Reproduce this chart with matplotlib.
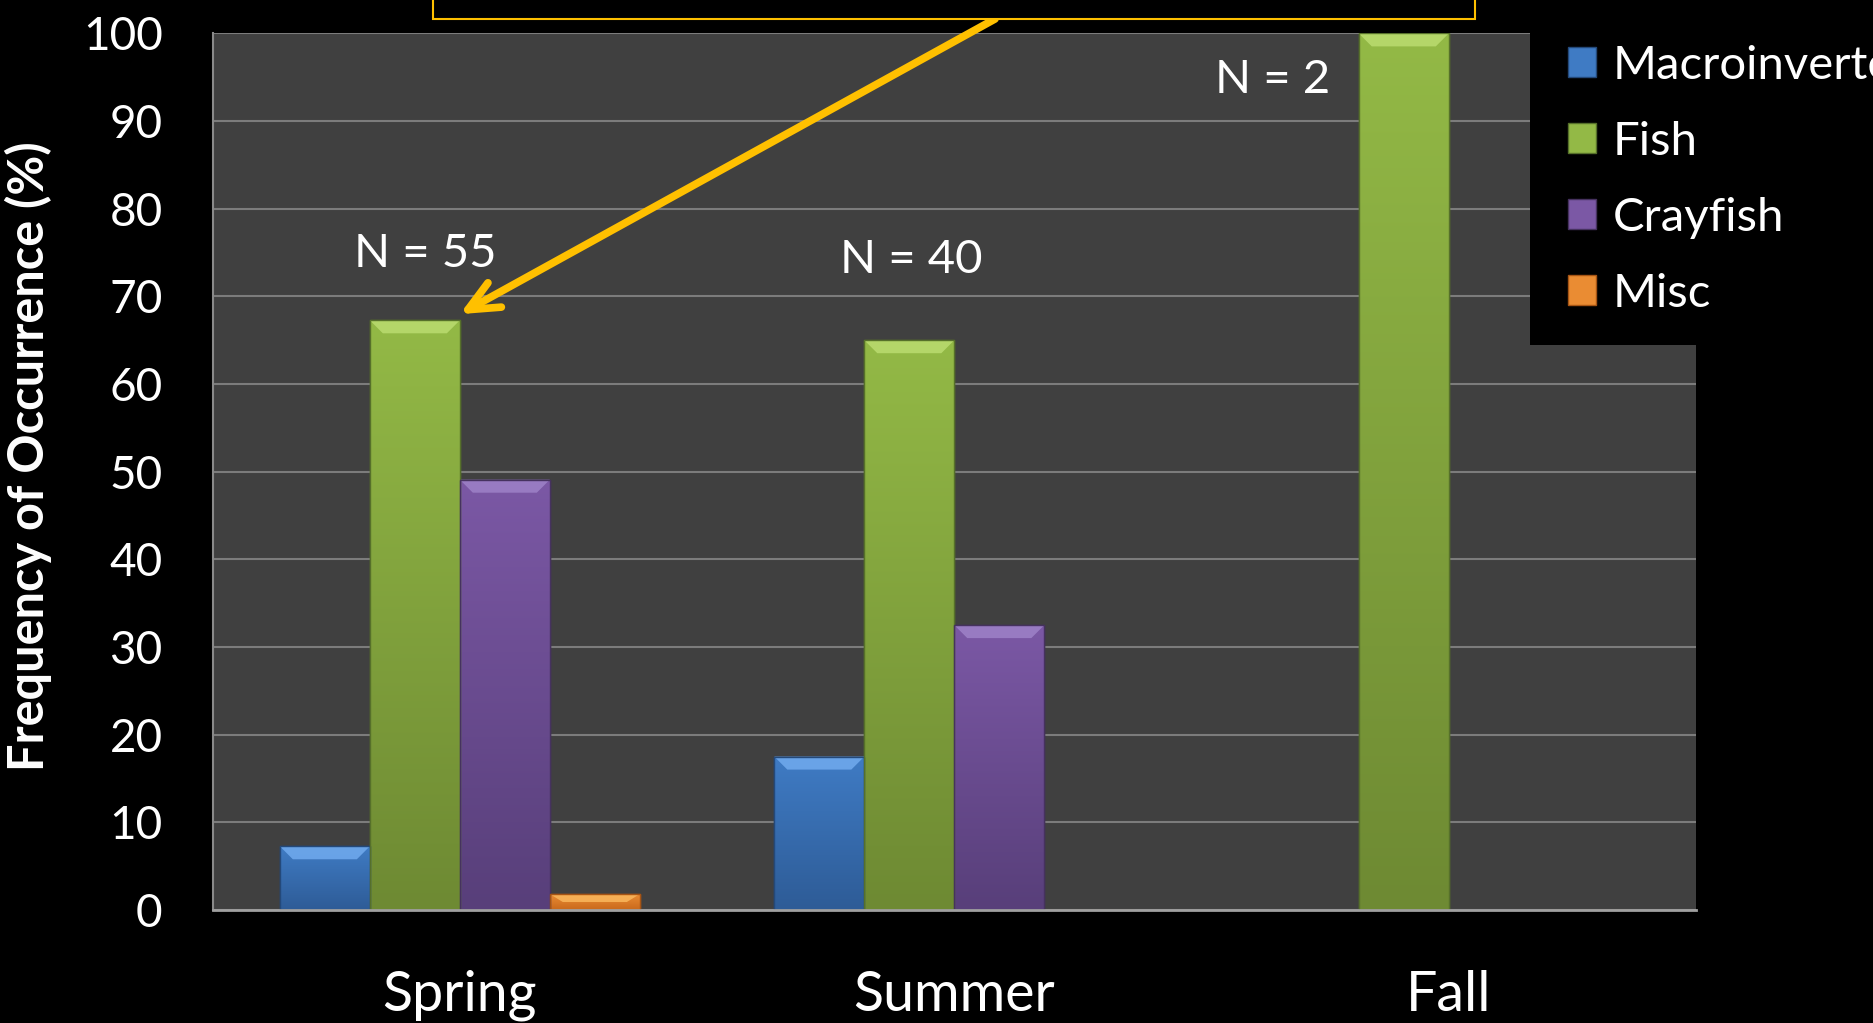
import numpy as np
import matplotlib
matplotlib.use("Agg")
import matplotlib.pyplot as plt
from matplotlib.patches import Rectangle, Polygon
from matplotlib.colors import to_rgb

# ---------------- data ----------------
seasons = ["Spring", "Summer", "Fall"]
series = ["Macroinvertebrates", "Fish", "Crayfish", "Misc"]
macro = [7.27, 17.5, 0.0]
fish = [67.27, 65.0, 100.0]
crayfish = [49.09, 32.5, 0.0]
misc = [1.82, 0.0, 0.0]
n_labels = ["N = 55", "N = 40", "N = 2"]
n_label_x = [-0.069, 0.913, 1.643]
n_label_y = [74.8, 74.2, 94.7]
yticks = [0, 10, 20, 30, 40, 50, 60, 70, 80, 90, 100]

# ---------------- style ----------------
top_cols = ["#3f7bc4", "#93b946", "#7b58a5", "#ea8c33"]
bot_cols = ["#2e5c97", "#6e8a33", "#583f7a", "#c9691c"]
bevel_cols = ["#6ea8ec", "#b8da6e", "#9c80c6", "#f8b45a"]
edge_cols = ["#24497a", "#56702a", "#46325f", "#a65414"]

plt.rcParams["font.family"] = ["Lato", "DejaVu Sans"]

W, H = 1873, 1023
fig = plt.figure(figsize=(W / 100, H / 100), dpi=100, facecolor="black")
ax = fig.add_axes([212.6 / W, 1 - 910 / H, (1696 - 212.6) / W, (910 - 33.4) / H])
ax.set_facecolor("#404040")

values = [macro, fish, crayfish, misc]
x = np.arange(len(seasons))
w = 0.182
offsets = [-1.5 * w, -0.5 * w, 0.5 * w, 1.5 * w]

ax.set_xlim(-0.5, 2.5)
ax.set_ylim(0, 100)

# pixel to data helpers for bevel sizes
px_y = 100 / (910 - 33.4)
px_x = 3 / (1696 - 212.6)

handles = []
for si, (vals, off) in enumerate(zip(values, offsets)):
    bars = ax.bar(x + off, vals, width=w, color=top_cols[si], edgecolor=edge_cols[si],
                  linewidth=1.0, zorder=2, label=series[si])
    for b in bars:
        h = b.get_height()
        if h <= 0:
            continue
        x0 = b.get_x()
        x1 = x0 + b.get_width()
        c1 = np.array(to_rgb(top_cols[si]))
        c2 = np.array(to_rgb(bot_cols[si]))
        t = np.linspace(0, 1, 64)[:, None]
        grad = (c1 * (1 - t) + c2 * t)[:, None, :]
        im = ax.imshow(grad, extent=[x0, x1, 0, h], aspect="auto", origin="upper",
                       interpolation="bicubic", zorder=2.1)
        im.set_clip_path(b)
        bh = min(13 * px_y, h * 0.5)
        bw = 13 * px_x
        poly = Polygon([[x0, h], [x1, h], [x1 - bw, h - bh], [x0 + bw, h - bh]],
                       closed=True, facecolor=bevel_cols[si], edgecolor="none", zorder=2.2, alpha=0.9)
        ax.add_patch(poly)
        ax.add_patch(Rectangle((x0, 0), x1 - x0, h, facecolor="none",
                               edgecolor=edge_cols[si], linewidth=1.0, zorder=2.3))
    handles.append(Rectangle((0, 0), 1, 1, facecolor=top_cols[si], edgecolor=edge_cols[si], linewidth=1))

ax.set_xlim(-0.5, 2.5)
ax.set_ylim(0, 100)

# grid & spines
ax.set_yticks(yticks)
ax.yaxis.grid(True, color="#7c7c7c", linewidth=1.5, zorder=1)
ax.set_axisbelow(True)
for s in ["top", "right"]:
    ax.spines[s].set_visible(False)
ax.spines["left"].set_color("#8a8a8a")
ax.spines["left"].set_linewidth(1.5)
ax.spines["bottom"].set_color("#a0a0a0")
ax.spines["bottom"].set_linewidth(2)

ax.set_xticks(x)
ax.set_xticklabels(seasons)
ax.tick_params(axis="x", length=0, pad=43, labelsize=40, labelcolor="white")
ax.tick_params(axis="y", length=0, pad=36, labelsize=33, labelcolor="white")

ax.set_ylabel("Frequency of Occurrence (%)", fontsize=35, fontweight="bold", color="white")
ax.yaxis.set_label_coords(-0.108, 0.518)

for lbl, lx, ly in zip(n_labels, n_label_x, n_label_y):
    ax.text(lx, ly, lbl, ha="center", va="center", fontsize=34, color="white", zorder=3)

# legend background and legend
fig.patches.append(Rectangle((1530 / W, 1 - 345 / H), (W - 1530) / W, 345 / H,
                             transform=fig.transFigure, facecolor="black", edgecolor="none", zorder=1))
fig.legend(handles, series, loc="upper left", bbox_to_anchor=(1568 / W, 1 - 45 / H),
           frameon=False, fontsize=34, labelcolor="white", handlelength=0.6, handleheight=0.6,
           handletextpad=0.34, labelspacing=0.72, borderpad=0, borderaxespad=0)

# top callout box (text lies above the visible area)
fig.patches.append(Rectangle((433 / W, 1 - 19 / H), (1475 - 433) / W, 0.05,
                             transform=fig.transFigure, facecolor="black", edgecolor="#ffc000",
                             linewidth=1.5, zorder=3))
ax.annotate("", xy=(0.0, fish[0] + 0.7), xycoords="data",
            xytext=(995 / W, 1 - 19 / H), textcoords="figure fraction",
            arrowprops=dict(arrowstyle="->,head_length=2.2,head_width=1.0", color="#ffc000",
                            lw=5.5, shrinkA=0, shrinkB=0, capstyle="round", joinstyle="round"),
            zorder=4, annotation_clip=False)

fig.savefig("out.png", dpi=100, facecolor="black")
